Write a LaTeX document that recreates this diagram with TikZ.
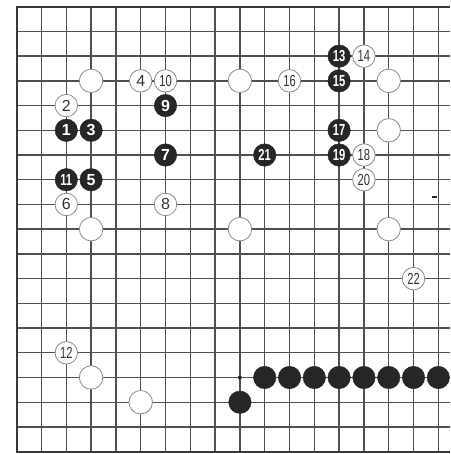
\documentclass[tikz,border=0pt]{standalone}
\usepackage{fontspec}
\usepackage{graphicx}
\setmainfont{Liberation Sans}
\definecolor{gridc}{HTML}{505050}
\definecolor{stoneb}{HTML}{262626}
\definecolor{wedge}{HTML}{8A8A8A}
\definecolor{numw}{HTML}{333333}
\newcommand\gox[1]{16.7+24.8*#1}
\newcommand\goy[1]{6.7+24.72*#1}
\newcommand\stone[5]{\node[#4] (#1) at ({\gox{#2}},{\goy{#3}}) {#5};}
\newcommand\nar[1]{\scalebox{0.7}[1]{#1}}
\begin{document}
\begin{tikzpicture}[x=1pt,y=-1pt,
  gridline/.style={draw=gridc,line width=1.4pt},
  boardedge/.style={draw=gridc!70!black,line width=2.2pt},
  bstone/.style={circle,fill=stoneb,draw=stoneb,line width=0.4pt,minimum size=22.5pt,inner sep=0pt,text=white,font=\fontsize{16}{16}\bfseries\selectfont},
  wstone/.style={circle,fill=white,draw=wedge,line width=0.8pt,minimum size=22.5pt,inner sep=0pt,text=numw,font=\fontsize{16}{16}\selectfont},
  plainw/.style={circle,fill=white,draw=wedge,line width=0.8pt,minimum size=23.5pt,inner sep=0pt},
  ptdot/.style={circle,fill=stoneb,minimum size=4pt,inner sep=0pt}]
\useasboundingbox (0,0) rectangle (450,454);
\fill[white] (0,0) rectangle (450,454);
% grid
\foreach \i in {1,...,17} \draw[gridline] ({\gox{\i}},{\goy{0}}) -- ({\gox{\i}},{\goy{18}});
\foreach \j in {1,...,17} \draw[gridline] ({\gox{0}},{\goy{\j}}) -- (450,{\goy{\j}});
\draw[boardedge] (450,{\goy{0}}) -- ({\gox{0}},{\goy{0}}) -- ({\gox{0}},{\goy{18}}) -- (450,{\goy{18}});
% plain white stones
\stone{w1}{3}{3}{plainw}{}
\stone{w2}{9}{3}{plainw}{}
\stone{w3}{15}{3}{plainw}{}
\stone{w4}{15}{5}{plainw}{}
\stone{w5}{3}{9}{plainw}{}
\stone{w6}{9}{9}{plainw}{}
\stone{w7}{15}{9}{plainw}{}
\stone{w8}{3}{15}{plainw}{}
\stone{w9}{5}{16}{plainw}{}
% numbered moves
\stone{m1}{2}{5}{bstone}{1}
\stone{m2}{2}{4}{wstone}{2}
\stone{m3}{3}{5}{bstone}{3}
\stone{m4}{5}{3}{wstone}{4}
\stone{m5}{3}{7}{bstone}{5}
\stone{m6}{2}{8}{wstone}{6}
\stone{m7}{6}{6}{bstone}{7}
\stone{m8}{6}{8}{wstone}{8}
\stone{m9}{6}{4}{bstone}{9}
\stone{m10}{6}{3}{wstone}{\nar{10}}
\stone{m11}{2}{7}{bstone}{\nar{11}}
\stone{m12}{2}{14}{wstone}{\nar{12}}
\stone{m13}{13}{2}{bstone}{\nar{13}}
\stone{m14}{14}{2}{wstone}{\nar{14}}
\stone{m15}{13}{3}{bstone}{\nar{15}}
\stone{m16}{11}{3}{wstone}{\nar{16}}
\stone{m17}{13}{5}{bstone}{\nar{17}}
\stone{m18}{14}{6}{wstone}{\nar{18}}
\stone{m19}{13}{6}{bstone}{\nar{19}}
\stone{m20}{14}{7}{wstone}{\nar{20}}
\stone{m21}{10}{6}{bstone}{\nar{21}}
\stone{m22}{16}{11}{wstone}{\nar{22}}
% black wall
\foreach \c in {10,...,17} {\stone{b\c}{\c}{15}{bstone}{}}
\stone{b9}{9}{16}{bstone}{}
\stone{dot}{9}{15}{ptdot}{}
% small print mark
\fill[stoneb] (432,195.8) rectangle (436.6,197.8);
\end{tikzpicture}
\end{document}
